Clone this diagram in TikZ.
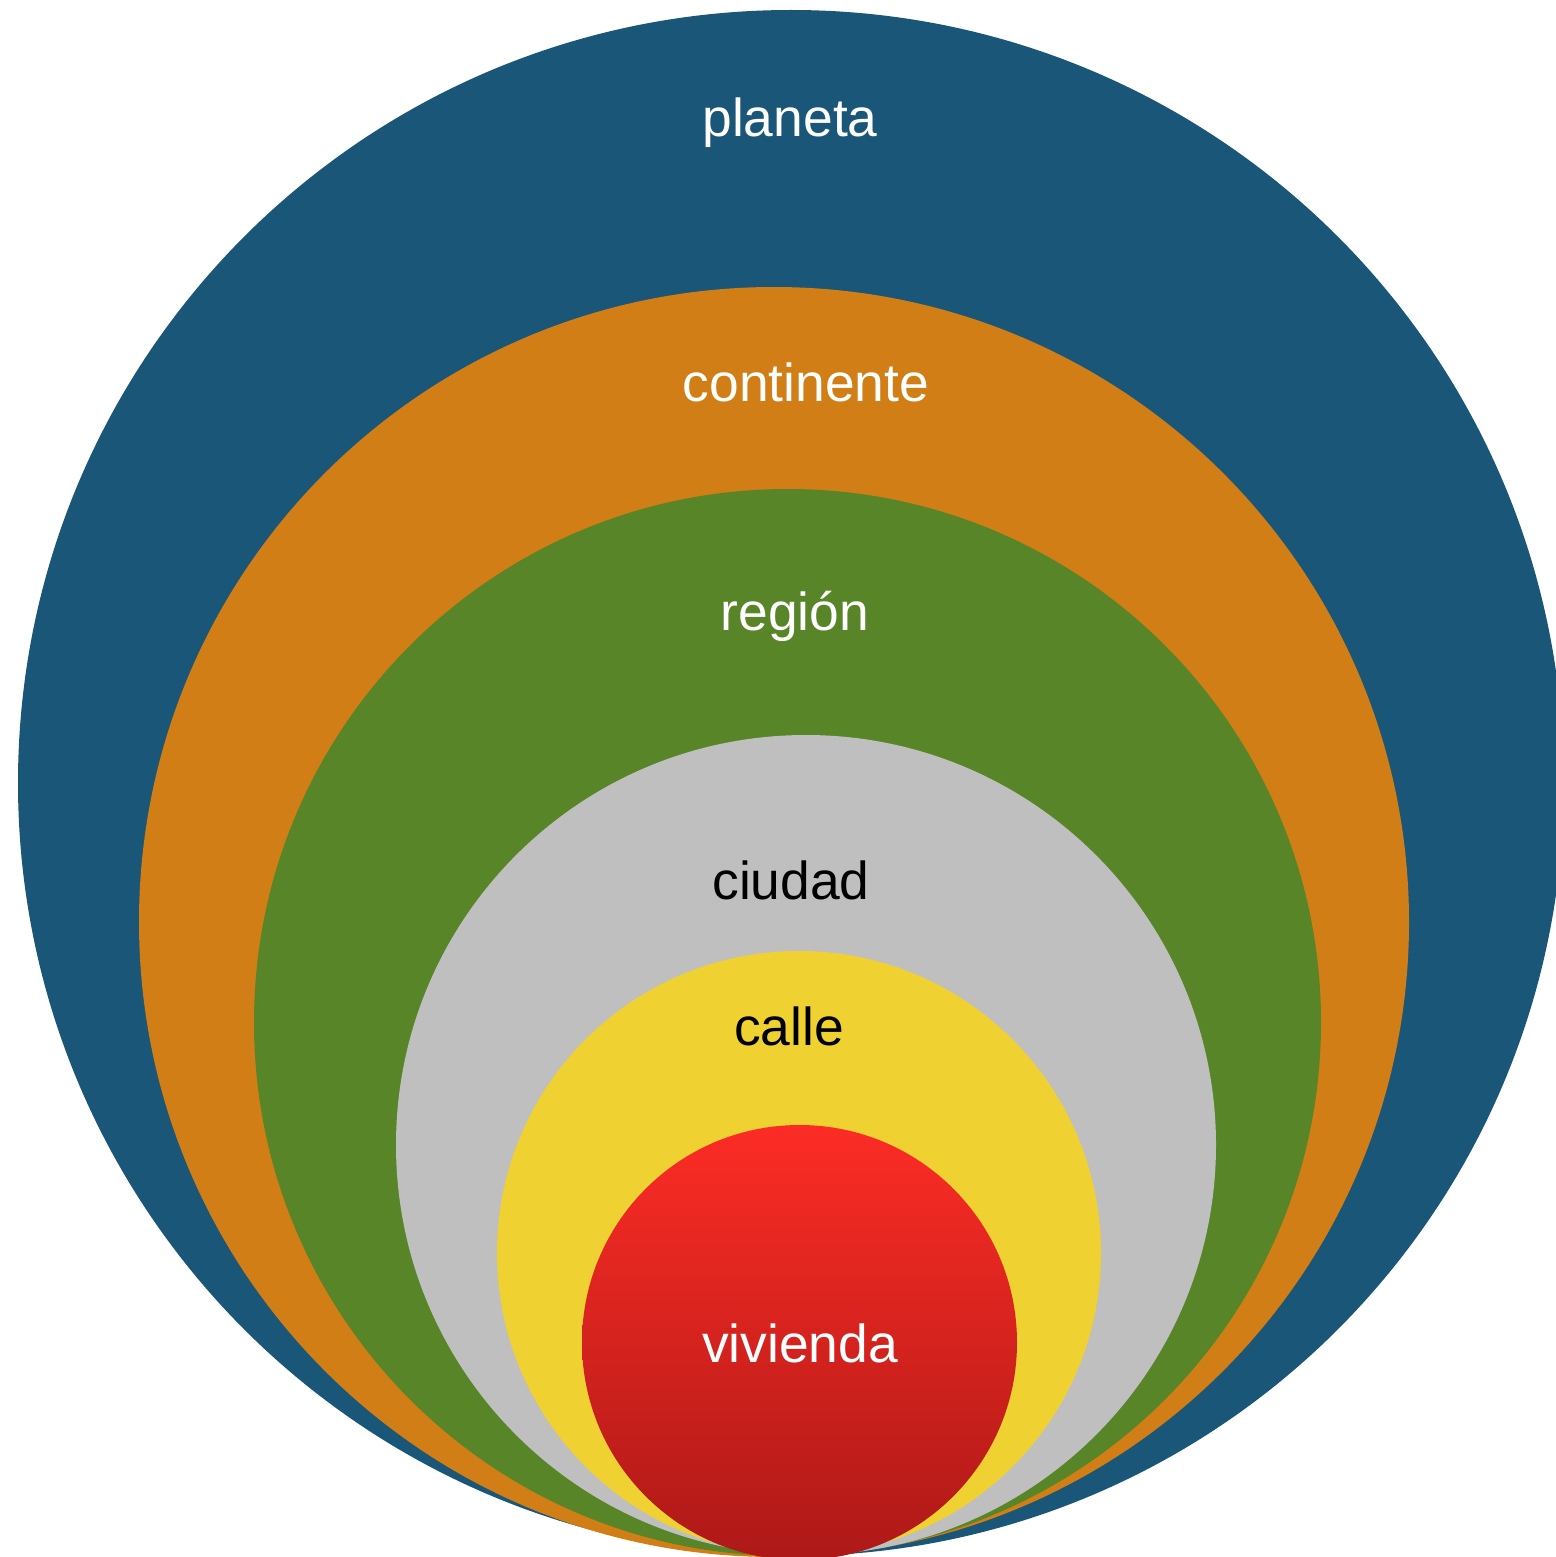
\documentclass[tikz,border=0pt]{standalone}
\usepackage{fontspec}
\setmainfont{Liberation Sans}
\definecolor{cblue}{HTML}{195677}
\definecolor{corange}{HTML}{D07E15}
\definecolor{cgreen}{HTML}{588527}
\definecolor{cgray}{HTML}{BFBFBF}
\definecolor{cyellow}{HTML}{F0D132}
\definecolor{credtop}{HTML}{FC2C25}
\definecolor{credbot}{HTML}{AD1917}
\begin{document}
\begin{tikzpicture}[x=0.5pt,y=-0.5pt,
  ring/.style={circle,inner sep=0pt,draw=none},
  lbl/.style={font=\fontsize{26.7}{32}\selectfont,inner sep=0pt,anchor=base},
  lblw/.style={lbl,text=white},
  lblb/.style={lbl,text=black}]
\useasboundingbox (0,0) rectangle (1556,1557);
\clip (0,0) rectangle (1556,1557);
\node[ring,fill=cblue,minimum size=1546*0.5pt] (planeta) at (791,783) {};
\node[ring,fill=corange,minimum size=1270*0.5pt] (continente) at (774,922) {};
\node[ring,fill=cgreen,minimum size=1067*0.5pt] (region) at (787.5,1022.5) {};
\node[ring,fill=cgray,minimum size=820*0.5pt] (ciudad) at (806,1145) {};
\node[ring,fill=cyellow,minimum size=604*0.5pt] (calle) at (799,1253) {};
\node[ring,top color=credtop,bottom color=credbot,minimum size=435*0.5pt] (vivienda) at (799.5,1342.5) {};
\node[lblw] (tplaneta) at (790,137) {planeta};
\node[lblw] (tcontinente) at (806,401) {continente};
\node[lblw] (tregion) at (795,630) {región};
\node[lblb] (tciudad) at (791,899) {ciudad};
\node[lblb] (tcalle) at (789,1045) {calle};
\node[lblw] (tvivienda) at (800,1362) {vivienda};
\end{tikzpicture}
\end{document}
